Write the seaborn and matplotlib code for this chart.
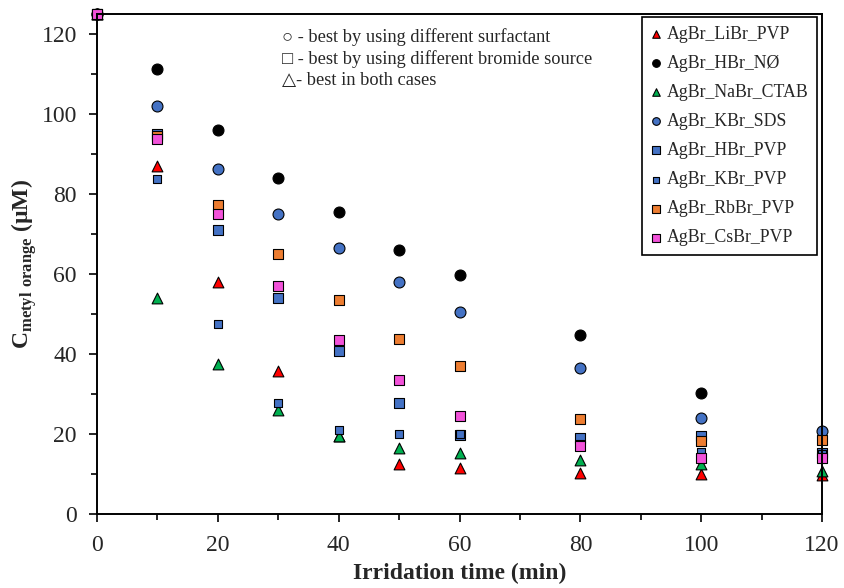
import numpy as np
import pandas as pd
import matplotlib
matplotlib.use('Agg')
import matplotlib.pyplot as plt
import seaborn as sns

#%% data

time = [0, 10, 20, 30, 40, 50, 60, 80, 100, 120]

libr_pvp = [125, 87.2, 58.0, 35.8, 19.5, 12.6, 11.6, 10.4, 10.2, 9.8]
hbr_no = [125, 111.4, 96.1, 84.0, 75.5, 66.1, 59.9, 44.8, 30.4, np.nan]
nabr_ctab = [125, 54.2, 37.7, 26.1, 19.6, 16.5, 15.4, 13.7, 12.6, 10.8]
kbr_sds = [125, 102.2, 86.3, 75.0, 66.7, 58.2, 50.7, 36.5, 24.1, 20.9]
hbr_pvp = [125, 95.0, 71.1, 54.2, 40.8, 27.9, 19.8, 19.2, 19.5, 15.4]
kbr_pvp = [125, 83.8, 47.7, 27.9, 21.2, 20.1, 20.0, 17.5, 15.6, 15.0]
rbbr_pvp = [125, 94.5, 77.3, 65.0, 53.7, 43.9, 37.0, 23.8, 18.4, 18.6]
csbr_pvp = [125, 93.9, 75.0, 57.2, 43.6, 33.7, 24.6, 17.1, 14.2, 14.2]

names = ['AgBr_LiBr_PVP', 'AgBr_HBr_NØ', 'AgBr_NaBr_CTAB', 'AgBr_KBr_SDS',
         'AgBr_HBr_PVP', 'AgBr_KBr_PVP', 'AgBr_RbBr_PVP', 'AgBr_CsBr_PVP']
series = [libr_pvp, hbr_no, nabr_ctab, kbr_sds, hbr_pvp, kbr_pvp, rbbr_pvp, csbr_pvp]

notes = ['○ - best by using different surfactant',
         '□ - best by using different bromide source',
         '△- best in both cases']

# long table for seaborn
df = pd.concat([pd.DataFrame({'time': time, 'conc': vals, 'sample': n})
                for n, vals in zip(names, series)], ignore_index=True)

#%% styling
colors = ['#FF0000', '#000000', '#00B050', '#4472C4', '#4472C4', '#4472C4', '#ED7D31', '#F252D9']
markers = ['^', 'o', '^', 'o', 's', 's', 's', 's']
sizes = [60, 62, 60, 62, 56, 30, 56, 56]

sns.set_style('ticks')
plt.rcParams['font.family'] = ['Liberation Serif', 'DejaVu Sans']
plt.rcParams['mathtext.fontset'] = 'custom'
plt.rcParams['mathtext.rm'] = 'Liberation Serif'
plt.rcParams['mathtext.bf'] = 'Liberation Serif:bold'

fig = plt.figure(figsize=(8.44, 5.88), dpi=100)
ax = fig.add_axes([0.115, 0.1253, 0.859, 0.8503])

for n, c, m, s in zip(names, colors, markers, sizes):
    sub = df[df['sample'] == n]
    sns.scatterplot(data=sub, x='time', y='conc', color=c, marker=m, s=s,
                    edgecolor='black', linewidth=0.8, label=n, ax=ax, clip_on=False, zorder=3)

ax.set_xlim(0, 120)
ax.set_ylim(0, 125)
ax.set_xticks(np.arange(0, 121, 20))
ax.set_yticks(np.arange(0, 121, 20))
ax.set_xticks(np.arange(0, 121, 10), minor=True)
ax.set_yticks(np.arange(0, 121, 10), minor=True)
ax.tick_params(which='major', direction='out', length=6, width=1.2, labelsize=17, color='black')
ax.tick_params(which='minor', direction='out', length=4.5, width=1.2, color='black')
ax.tick_params(axis='x', pad=9)
ax.tick_params(axis='y', pad=8.5)
for sp in ax.spines.values():
    sp.set_linewidth(1.4)
    sp.set_color('black')
    sp.set_zorder(4)

ax.set_xlabel('Irridation time (min)', fontsize=17, fontweight='bold', labelpad=5)
ax.set_ylabel(r'$\mathbf{C}_{\mathbf{metyl\ orange}}$ (µM)', fontsize=17, fontweight='bold', labelpad=2)

ax.text(0.255, 0.972, '\n'.join(notes), transform=ax.transAxes, fontsize=13.2,
        va='top', ha='left', linespacing=1.3)

leg = ax.legend(loc='upper right', bbox_to_anchor=(0.993, 0.995), borderaxespad=0,
                fontsize=12.8, frameon=True, fancybox=False, edgecolor='black',
                framealpha=1, markerscale=0.7, handlelength=0.5, handletextpad=0.35,
                labelspacing=0.68, borderpad=0.5)
leg.get_frame().set_linewidth(1.2)

fig.savefig('out.png', dpi=100)
